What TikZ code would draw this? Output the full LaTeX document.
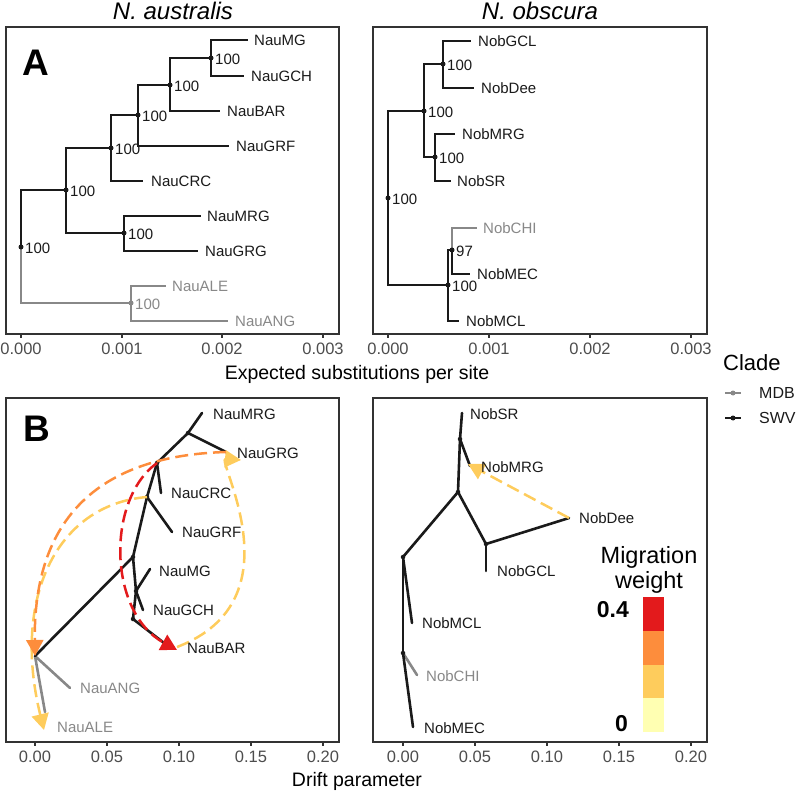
\documentclass[tikz,border=0pt]{standalone}
\usepackage{fontspec}
\setmainfont{Liberation Sans}
\usetikzlibrary{arrows.meta}
\definecolor{framec}{HTML}{333333}
\definecolor{mdbgray}{HTML}{888888}
\definecolor{swvblack}{HTML}{1A1A1A}
\definecolor{tickc}{HTML}{4D4D4D}
\definecolor{mred}{HTML}{E31A1C}
\definecolor{morange}{HTML}{FD8D3C}
\definecolor{myellow}{HTML}{FECC5C}
\definecolor{mpale}{HTML}{FFFFB2}
\begin{document}
\begin{tikzpicture}[x=1pt,y=-1pt,
  panel/.style={draw=framec,line width=1.1pt},
  tickmark/.style={draw=framec,line width=1.1pt},
  ticklbl/.style={font=\fontsize{16.5}{20}\selectfont,text=tickc,inner sep=0pt,text height=11.8pt,text depth=0pt},
  axt/.style={font=\fontsize{19.5}{23}\selectfont,inner sep=0pt,text height=14pt,text depth=0pt},
  ttl/.style={font=\fontsize{24}{28}\selectfont\itshape,inner sep=0pt,text height=17.2pt,text depth=0pt},
  tiplbl/.style={font=\fontsize{15}{18}\selectfont,inner sep=0pt,anchor=west,text height=10.7pt,text depth=0pt,text=swvblack},
  gtiplbl/.style={tiplbl,text=mdbgray},
  supp/.style={font=\fontsize{15}{18}\selectfont,inner sep=0pt,anchor=west,text height=10.7pt,text depth=0pt,xshift=4pt,yshift=-1pt,text=swvblack},
  gsupp/.style={supp,text=mdbgray},
  br/.style={draw=swvblack,line width=2.9pt},
  gbr/.style={draw=mdbgray,line width=2.9pt},
  bbr/.style={draw=swvblack,line width=2.6pt,line cap=round},
  gbbr/.style={draw=mdbgray,line width=2.6pt,line cap=round},
  dotn/.style={circle,fill=swvblack,inner sep=0pt,minimum size=5pt},
  gdotn/.style={circle,fill=mdbgray,inner sep=0pt,minimum size=5pt},
  mig/.style={line width=2.5pt,dash pattern=on 13pt off 6pt,-{Triangle[length=16pt,width=17pt]}},
  panellbl/.style={font=\fontsize{37}{40}\selectfont\bfseries,inner sep=0pt,text height=26.5pt,text depth=0pt}
]
\path[use as bounding box] (0,0) rectangle (797,791);

% ---------- frames ----------
\draw[panel] (6,27) rectangle (339,334);
\draw[panel] (373,27) rectangle (707,334);
\draw[panel] (6,398) rectangle (339,742);
\draw[panel] (373,398) rectangle (707,742);

% ---------- ticks ----------
\foreach \x/\t in {21/0.000,122/0.001,222/0.002,323/0.003}{
  \draw[tickmark] (\x,334) -- (\x,338);
  \node[ticklbl] (tal\x) at (\x,349) {\t};}
\foreach \x/\t in {388/0.000,489/0.001,590/0.002,691/0.003}{
  \draw[tickmark] (\x,334) -- (\x,338);
  \node[ticklbl] (tar\x) at (\x,349) {\t};}
\foreach \x/\t in {35/0.00,107/0.05,179/0.10,251/0.15,323/0.20}{
  \draw[tickmark] (\x,742) -- (\x,746);
  \node[ticklbl] (tbl\x) at (\x,757) {\t};}
\foreach \x/\t in {403/0.00,475/0.05,547/0.10,619/0.15,691/0.20}{
  \draw[tickmark] (\x,742) -- (\x,746);
  \node[ticklbl] (tbr\x) at (\x,757) {\t};}

% ---------- titles ----------
\node[ttl] (titA) at (173,11) {N. australis};
\node[ttl] (titB) at (540,11) {N. obscura};
\node[axt] (xA) at (357,372) {Expected substitutions per site};
\node[axt] (xB) at (357,779) {Drift parameter};
\node[panellbl] (labA) at (36,62) {A};
\node[panellbl] (labB) at (37,428) {B};

% ---------- A: N. australis ----------
\coordinate (ar) at (21,247);
\coordinate (an1) at (66,190);
\coordinate (an2) at (111,148);
\coordinate (an3) at (138,115);
\coordinate (an4) at (170,85);
\coordinate (an5) at (211,58);
\coordinate (an6) at (124,233);
\coordinate (ag1) at (131,303);
\coordinate (aMG) at (248,40);
\coordinate (aGCH) at (244,76);
\coordinate (aBAR) at (220,111);
\coordinate (aGRF) at (229,146);
\coordinate (aCRC) at (143,181);
\coordinate (aMRG) at (201,216);
\coordinate (aGRG) at (198,251);
\coordinate (aALE) at (166,286);
\coordinate (aANG) at (228,321);
\draw[gbr] (ar) |- (ag1);
\draw[gbr] (ag1) |- (aALE);
\draw[gbr] (ag1) |- (aANG);
\draw[br] (ar) |- (an1);
\draw[br] (an1) |- (an2);
\draw[br] (an1) |- (an6);
\draw[br] (an2) |- (an3);
\draw[br] (an2) |- (aCRC);
\draw[br] (an3) |- (an4);
\draw[br] (an3) |- (aGRF);
\draw[br] (an4) |- (an5);
\draw[br] (an4) |- (aBAR);
\draw[br] (an5) |- (aMG);
\draw[br] (an5) |- (aGCH);
\draw[br] (an6) |- (aMRG);
\draw[br] (an6) |- (aGRG);
\foreach \n in {ar,an1,an2,an3,an4,an5,an6}{\node[dotn] (d\n) at (\n) {};}
\node[gdotn] (dag1) at (ag1) {};
\foreach \n in {ar,an1,an2,an3,an4,an5,an6}{\node[supp] (s\n) at (\n) {100};}
\node[gsupp] (sag1) at (ag1) {100};
\node[tiplbl] (laMG) at (254,40) {NauMG};
\node[tiplbl] (laGCH) at (251,76) {NauGCH};
\node[tiplbl] (laBAR) at (227,111) {NauBAR};
\node[tiplbl] (laGRF) at (236,146) {NauGRF};
\node[tiplbl] (laCRC) at (151,181) {NauCRC};
\node[tiplbl] (laMRG) at (207,216) {NauMRG};
\node[tiplbl] (laGRG) at (205,251) {NauGRG};
\node[gtiplbl] (laALE) at (172,286) {NauALE};
\node[gtiplbl] (laANG) at (235,321) {NauANG};

% ---------- A: N. obscura ----------
\coordinate (or) at (388,198);
\coordinate (om1) at (424,111);
\coordinate (om2) at (443,64);
\coordinate (om3) at (435,157);
\coordinate (om4) at (448,285);
\coordinate (om5) at (452,250);
\coordinate (oGCL) at (471,41);
\coordinate (oDee) at (474,88);
\coordinate (oMRG) at (455,134);
\coordinate (oSR) at (451,181);
\coordinate (oCHI) at (477,228);
\coordinate (oMEC) at (470,274);
\coordinate (oMCL) at (459,321);
\draw[br] (or) |- (om1);
\draw[br] (or) |- (om4);
\draw[br] (om1) |- (om2);
\draw[br] (om1) |- (om3);
\draw[br] (om2) |- (oGCL);
\draw[br] (om2) |- (oDee);
\draw[br] (om3) |- (oMRG);
\draw[br] (om3) |- (oSR);
\draw[br] (om4) |- (om5);
\draw[br] (om4) |- (oMCL);
\draw[gbr] (om5) |- (oCHI);
\draw[br] (om5) |- (oMEC);
\foreach \n in {or,om1,om2,om3,om4,om5}{\node[dotn] (d\n) at (\n) {};}
\foreach \n in {or,om1,om2,om3,om4}{\node[supp] (s\n) at (\n) {100};}
\node[supp] (som5) at (om5) {97};
\node[tiplbl] (loGCL) at (478,41) {NobGCL};
\node[tiplbl] (loDee) at (481,88) {NobDee};
\node[tiplbl] (loMRG) at (462,134) {NobMRG};
\node[tiplbl] (loSR) at (457,181) {NobSR};
\node[gtiplbl] (loCHI) at (483,228) {NobCHI};
\node[tiplbl] (loMEC) at (477,274) {NobMEC};
\node[tiplbl] (loMCL) at (466,321) {NobMCL};

% ---------- B: N. australis ----------
\coordinate (bR) at (35,656);
\coordinate (bA1) at (133,557);
\coordinate (bA4) at (136,591);
\coordinate (bA3) at (133,619);
\coordinate (bA2) at (147,497);
\coordinate (bA5) at (157,463);
\coordinate (bA6) at (188,433);
\coordinate (bALE) at (45,712);
\coordinate (bANG) at (70,688);
\coordinate (bBAR) at (168,646);
\coordinate (bMG) at (150,569);
\coordinate (bGCH) at (143,610);
\coordinate (bGRF) at (172,532);
\coordinate (bCRC) at (161,493);
\coordinate (bMRG) at (202,413);
\coordinate (bGRG) at (226,452);
\coordinate (bALEarr) at (44,730);
\coordinate (bBARarr) at (177,650);
\coordinate (bBARst) at (177,647);
\coordinate (bGRGarr) at (241,460);
\draw[gbbr] (bR) -- (bALE);
\draw[gbbr] (bR) -- (bANG);
\draw[bbr] (bR) -- (bA1);
\draw[bbr] (bA1) -- (bA4);
\draw[bbr] (bA4) -- (bA3);
\draw[bbr] (bA3) -- (bBAR);
\draw[bbr] (bA4) -- (bMG);
\draw[bbr] (bA4) -- (bGCH);
\draw[bbr] (bA1) -- (bA2);
\draw[bbr] (bA2) -- (bGRF);
\draw[bbr] (bA2) -- (bA5);
\draw[bbr] (bA5) -- (bCRC);
\draw[bbr] (bA5) -- (bA6);
\draw[bbr] (bA6) -- (bMRG);
\draw[bbr] (bA6) -- (bGRG);
\foreach \n in {bA1,bA4,bA3,bA2,bA5,bA6}{\node[dotn,minimum size=4.5pt] (d\n) at (\n) {};}
% migration edges
\draw[mig,myellow] (bA2) .. controls (55,505) and (12,600) .. (bALEarr);
\draw[mig,myellow] (bBARst) .. controls (300,600) and (215,458) .. (bGRGarr);
\draw[mig,morange] (bGRG) .. controls (120,455) and (33,500) .. (bR);
\draw[mig,mred] (bA5) .. controls (106,500) and (108,612) .. (bBARarr);
\node[gtiplbl] (lbALE) at (57,727) {NauALE};
\node[gtiplbl] (lbANG) at (80,688) {NauANG};
\node[tiplbl] (lbBAR) at (187,648) {NauBAR};
\node[tiplbl] (lbGCH) at (153,610) {NauGCH};
\node[tiplbl] (lbMG) at (159,571) {NauMG};
\node[tiplbl] (lbGRF) at (182,532) {NauGRF};
\node[tiplbl] (lbCRC) at (171,493) {NauCRC};
\node[tiplbl] (lbMRG) at (213,414) {NauMRG};
\node[tiplbl] (lbGRG) at (237,453) {NauGRG};

% ---------- B: N. obscura ----------
\coordinate (cN1) at (403,557);
\coordinate (cN2) at (403,653);
\coordinate (cN3) at (458,492);
\coordinate (cN4) at (460,439);
\coordinate (cN5) at (486,544);
\coordinate (cMCL) at (412,623);
\coordinate (cCHI) at (417,675);
\coordinate (cMEC) at (413,727);
\coordinate (cSR) at (462,413);
\coordinate (cMRG) at (470,466);
\coordinate (cDee) at (569,518);
\coordinate (cGCL) at (486,571);
\coordinate (cMRGarr) at (468,464);
\draw[bbr] (cN1) -- (cMCL);
\draw[bbr] (cN1) -- (cN2);
\draw[gbbr] (cN2) -- (cCHI);
\draw[bbr] (cN2) -- (cMEC);
\draw[bbr] (cN1) -- (cN3);
\draw[bbr] (cN3) -- (cN4);
\draw[bbr] (cN4) -- (cSR);
\draw[bbr] (cN4) -- (cMRG);
\draw[bbr] (cN3) -- (cN5);
\draw[bbr] (cN5) -- (cDee);
\draw[bbr] (cN5) -- (cGCL);
\foreach \n in {cN1,cN2,cN3,cN4,cN5}{\node[dotn,minimum size=4.5pt] (d\n) at (\n) {};}
\draw[mig,myellow] (cDee) -- (cMRGarr);
\node[tiplbl] (lcSR) at (470,414) {NobSR};
\node[tiplbl] (lcMRG) at (481,467) {NobMRG};
\node[tiplbl] (lcDee) at (579,518) {NobDee};
\node[tiplbl] (lcGCL) at (497,571) {NobGCL};
\node[tiplbl] (lcMCL) at (422,623) {NobMCL};
\node[gtiplbl] (lcCHI) at (426,676) {NobCHI};
\node[tiplbl] (lcMEC) at (424,728) {NobMEC};

% ---------- migration weight legend ----------
\node[font=\fontsize{23.5}{26}\selectfont,inner sep=0pt,anchor=base] (mwt1) at (649,563) {Migration};
\node[font=\fontsize{23.5}{26}\selectfont,inner sep=0pt,anchor=base] (mwt2) at (649,588) {weight};
\fill[mred] (643,597) rectangle (664,631);
\fill[morange] (643,631) rectangle (664,665);
\fill[myellow] (643,665) rectangle (664,698);
\fill[mpale] (643,698) rectangle (664,732);
\node[font=\fontsize{23}{26}\selectfont\bfseries,inner sep=0pt,anchor=base east] (mw4) at (629,617.5) {0.4};
\node[font=\fontsize{23}{26}\selectfont\bfseries,inner sep=0pt,anchor=base east] (mw0) at (628,731.5) {0};

% ---------- clade legend ----------
\node[font=\fontsize{22}{26}\selectfont,inner sep=0pt,anchor=base west] (cladeT) at (723,370) {Clade};
\coordinate (lgA1) at (725,393);
\coordinate (lgA2) at (741,393);
\coordinate (lgB1) at (725,418);
\coordinate (lgB2) at (741,418);
\draw[mdbgray,line width=2.4pt] (lgA1) -- (lgA2);
\node[gdotn] (lgAd) at (733,393) {};
\draw[swvblack,line width=2.4pt] (lgB1) -- (lgB2);
\node[dotn] (lgBd) at (733,418) {};
\node[tiplbl,font=\fontsize{16}{19}\selectfont,text height=11.5pt] (lgAt) at (759,393) {MDB};
\node[tiplbl,font=\fontsize{16}{19}\selectfont,text height=11.5pt] (lgBt) at (759,418) {SWV};
\end{tikzpicture}
\end{document}
